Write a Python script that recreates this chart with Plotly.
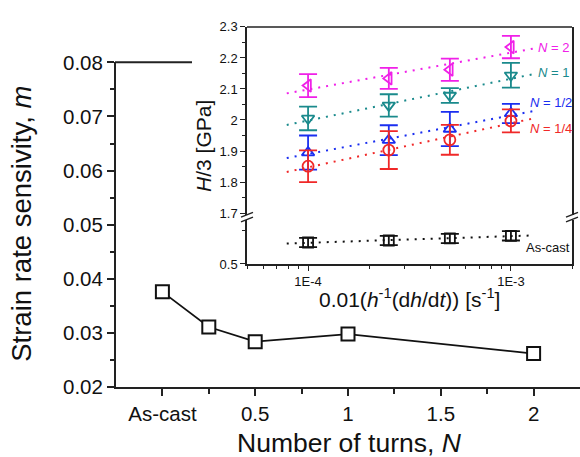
import numpy as np
import plotly.graph_objects as go

W, H = 580, 457
FONT = "Liberation Sans, Arial, sans-serif"

# ---------------- data: main plot ----------------
turns = [0, 0.25, 0.5, 1, 2]
m_values = [0.0376, 0.0311, 0.0284, 0.0298, 0.0262]
main_tickvals = [0, 0.5, 1, 1.5, 2]
main_ticktext = ["As-cast", "0.5", "1", "1.5", "2"]

# ---------------- data: inset ----------------
rate = [1e-4, 2.5e-4, 5e-4, 1e-3]
h_n2 = [2.111, 2.134, 2.162, 2.235]
e_n2 = [0.037, 0.034, 0.036, 0.036]
h_n1 = [2.005, 2.047, 2.079, 2.144]
e_n1 = [0.038, 0.036, 0.024, 0.040]
h_n12 = [1.895, 1.935, 1.971, 2.021]
e_n12 = [0.055, 0.048, 0.055, 0.031]
h_n14 = [1.851, 1.903, 1.936, 1.997]
e_n14 = [0.051, 0.061, 0.048, 0.037]
h_cast = [0.532, 0.535, 0.538, 0.542]
e_cast = [0.007, 0.007, 0.007, 0.007]
inset_xtickvals = [1e-4, 1e-3]
inset_xticktext = ["1E-4", "1E-3"]
fit_span = [7.85e-5, 1.29e-3]

C_MAG = "#f020e8"
C_TEAL = "#1a8a8c"
C_BLUE = "#1a2ef0"
C_RED = "#f02828"
C_BLK = "#111111"
AX = "#222222"


def px(x):
    return x / W


def py(y):
    return 1 - y / H


fig = go.Figure()

# main series
fig.add_trace(go.Scatter(
    x=turns, y=m_values, mode="lines+markers",
    line=dict(color=C_BLK, width=1.8),
    marker=dict(symbol="square", size=13, color="white",
                line=dict(color=C_BLK, width=2)),
    xaxis="x", yaxis="y", showlegend=False))

series = [
    (h_n2, e_n2, C_MAG, "triangle-left-open", "y2"),
    (h_n1, e_n1, C_TEAL, "triangle-down-open", "y2"),
    (h_n12, e_n12, C_BLUE, "triangle-up-open", "y2"),
    (h_n14, e_n14, C_RED, "circle-open", "y2"),
    (h_cast, e_cast, C_BLK, "square-open", "y3"),
]

lx = np.log10(rate)
for vals, errs, col, sym, ya in series:
    k, b = np.polyfit(lx, vals, 1)
    fx = np.array(fit_span)
    fy = k * np.log10(fx) + b
    fig.add_trace(go.Scatter(
        x=fx, y=fy, mode="lines",
        line=dict(color=col, width=2, dash="2px,6px"),
        xaxis="x2", yaxis=ya, showlegend=False, hoverinfo="skip"))
    fig.add_trace(go.Scatter(
        x=rate, y=vals, mode="markers",
        marker=dict(symbol=sym, size=11 if sym != "square-open" else 10,
                    color=col, line=dict(color=col, width=1.8)),
        error_y=dict(type="data", array=errs, color=col, thickness=1.8, width=9),
        xaxis="x2", yaxis=ya, showlegend=False))

# inset geometry (pixels)
IX0, IX1 = 247, 572
IY_TOP, IY_BRK_U, IY_BRK_L, IY_BOT = 15.7, 214, 219, 265.3
up_lo = 2.3 - (IY_BRK_U - IY_TOP) / 326.7
lo_hi = 0.5 + (IY_BOT - IY_BRK_L) / 706

tickfont_main = dict(family=FONT, size=20.5, color="#111")
tickfont_in = dict(family=FONT, size=13, color="#111")

minor_x = [m * 10.0 ** d for d in (-5, -4, -3) for m in range(2, 10)]
minor_x = [v for v in minor_x if 5e-5 <= v <= 2e-3 and v not in (1e-4, 1e-3)]

fig.update_layout(
    width=W, height=H,
    margin=dict(l=0, r=0, t=0, b=0),
    paper_bgcolor="white", plot_bgcolor="rgba(0,0,0,0)",
    font=dict(family=FONT, color="#111"),
    xaxis=dict(domain=[px(116), 1.0], range=[-0.25, 2.25],
               tickmode="array", tickvals=main_tickvals, ticktext=main_ticktext,
               ticks="outside", ticklen=7, tickwidth=1.5, tickcolor=AX,
               minor=dict(tickmode="array", tickvals=[0.25, 0.75, 1.25, 1.75],
                          ticks="outside", ticklen=5, tickwidth=1.5, tickcolor=AX),
               showline=True, linecolor=AX, linewidth=2, showgrid=False,
               zeroline=False, tickfont=tickfont_main, anchor="y"),
    yaxis=dict(domain=[py(395), py(53)], range=[0.02, 0.08],
               tickmode="array", tickvals=[0.02, 0.03, 0.04, 0.05, 0.06, 0.07, 0.08],
               ticktext=["0.02", "0.03", "0.04", "0.05", "0.06", "0.07", "0.08"],
               ticks="outside", ticklen=7, tickwidth=1.5, tickcolor=AX,
               minor=dict(tickmode="array",
                          tickvals=[0.025, 0.035, 0.045, 0.055, 0.065, 0.075],
                          ticks="outside", ticklen=4, tickwidth=1.5, tickcolor=AX),
               showline=True, linecolor=AX, linewidth=2, showgrid=False,
               zeroline=False, tickfont=tickfont_main, anchor="x"),
    xaxis2=dict(domain=[px(IX0), px(IX1)], type="log",
                range=[np.log10(5e-5), np.log10(2e-3)],
                tickmode="array", tickvals=inset_xtickvals, ticktext=inset_xticktext,
                ticks="outside", ticklen=5, tickwidth=1.3, tickcolor=AX,
                minor=dict(tickmode="array", tickvals=minor_x, ticks="outside",
                           ticklen=3, tickwidth=1.2, tickcolor=AX),
                showline=True, linecolor=AX, linewidth=1.5, showgrid=False,
                zeroline=False, tickfont=tickfont_in, anchor="y3"),
    yaxis2=dict(domain=[py(IY_BRK_U), py(IY_TOP)], range=[up_lo, 2.3],
                tickmode="array", tickvals=[1.7, 1.8, 1.9, 2.0, 2.1, 2.2, 2.3],
                ticktext=["1.7", "1.8", "1.9", "2", "2.1", "2.2", "2.3"],
                ticks="outside", ticklen=5, tickwidth=1.3, tickcolor=AX,
                minor=dict(tickmode="array",
                           tickvals=[1.75, 1.85, 1.95, 2.05, 2.15, 2.25],
                           ticks="outside", ticklen=3, tickwidth=1.2, tickcolor=AX),
                showline=True, mirror=True, linecolor=AX, linewidth=1.5,
                showgrid=False, zeroline=False, tickfont=tickfont_in, anchor="x2"),
    yaxis3=dict(domain=[py(IY_BOT), py(IY_BRK_L)], range=[0.5, lo_hi],
                tickmode="array", tickvals=[0.5], ticktext=["0.5"],
                ticks="outside", ticklen=5, tickwidth=1.3, tickcolor=AX,
                minor=dict(tickmode="array", tickvals=[0.55], ticks="outside",
                           ticklen=3, tickwidth=1.2, tickcolor=AX),
                showline=True, mirror=True, linecolor=AX, linewidth=1.5,
                showgrid=False, zeroline=False, tickfont=tickfont_in, anchor="x2"),
)

shapes = [
    # top frame of the main plot (visible part)
    dict(type="line", xref="paper", yref="paper", x0=px(115), x1=px(192),
         y0=py(53), y1=py(53), line=dict(color=AX, width=2)),
    # top frame of the inset
    dict(type="line", xref="paper", yref="paper", x0=px(IX0), x1=px(IX1),
         y0=py(IY_TOP), y1=py(IY_TOP), line=dict(color=AX, width=1.5)),
]
for xb in (IX0, IX1):
    for dy in (0, 5):
        shapes.append(dict(type="line", xref="paper", yref="paper",
                           x0=px(xb - 6), x1=px(xb + 6),
                           y0=py(IY_BRK_U + 2 + dy), y1=py(IY_BRK_U - 3 + dy),
                           line=dict(color=AX, width=1.4)))
fig.update_layout(shapes=shapes)

ann = [
    dict(x=px(22), y=py(223), text="Strain rate sensivity, <i>m</i>", textangle=-90,
         font=dict(family=FONT, size=27.5, color="#111")),
    dict(x=px(349), y=py(437), yanchor="top", borderpad=0,
         text="Number of turns, <i>N</i>",
         font=dict(family=FONT, size=26.5, color="#111")),
    dict(x=px(204), y=py(141), text="<i>H</i>/3 [GPa]", textangle=-90,
         font=dict(family=FONT, size=21, color="#111")),
    dict(x=px(409), y=py(301),
         text="0.01(<i>h</i><sup>-1</sup>(d<i>h</i>/d<i>t</i>)) [s<sup>-1</sup>]",
         font=dict(family=FONT, size=21, color="#111")),
    dict(x=px(536), y=py(37), xanchor="left", text="<i>N</i> = 2",
         font=dict(family=FONT, size=13, color=C_MAG)),
    dict(x=px(536), y=py(64), xanchor="left", text="<i>N</i> = 1",
         font=dict(family=FONT, size=13, color=C_TEAL)),
    dict(x=px(528), y=py(95), xanchor="left", text="<i>N</i> = 1/2",
         font=dict(family=FONT, size=13, color=C_BLUE)),
    dict(x=px(528), y=py(123), xanchor="left", text="<i>N</i> = 1/4",
         font=dict(family=FONT, size=13, color=C_RED)),
    dict(x=px(524), y=py(248), xanchor="left", text="As-cast",
         font=dict(family=FONT, size=13, color="#111")),
]
for a in ann:
    a.setdefault("xanchor", "center")
    a.setdefault("yanchor", "middle")
    a.update(xref="paper", yref="paper", showarrow=False)
fig.update_layout(annotations=ann)

fig.write_html("out.html")
